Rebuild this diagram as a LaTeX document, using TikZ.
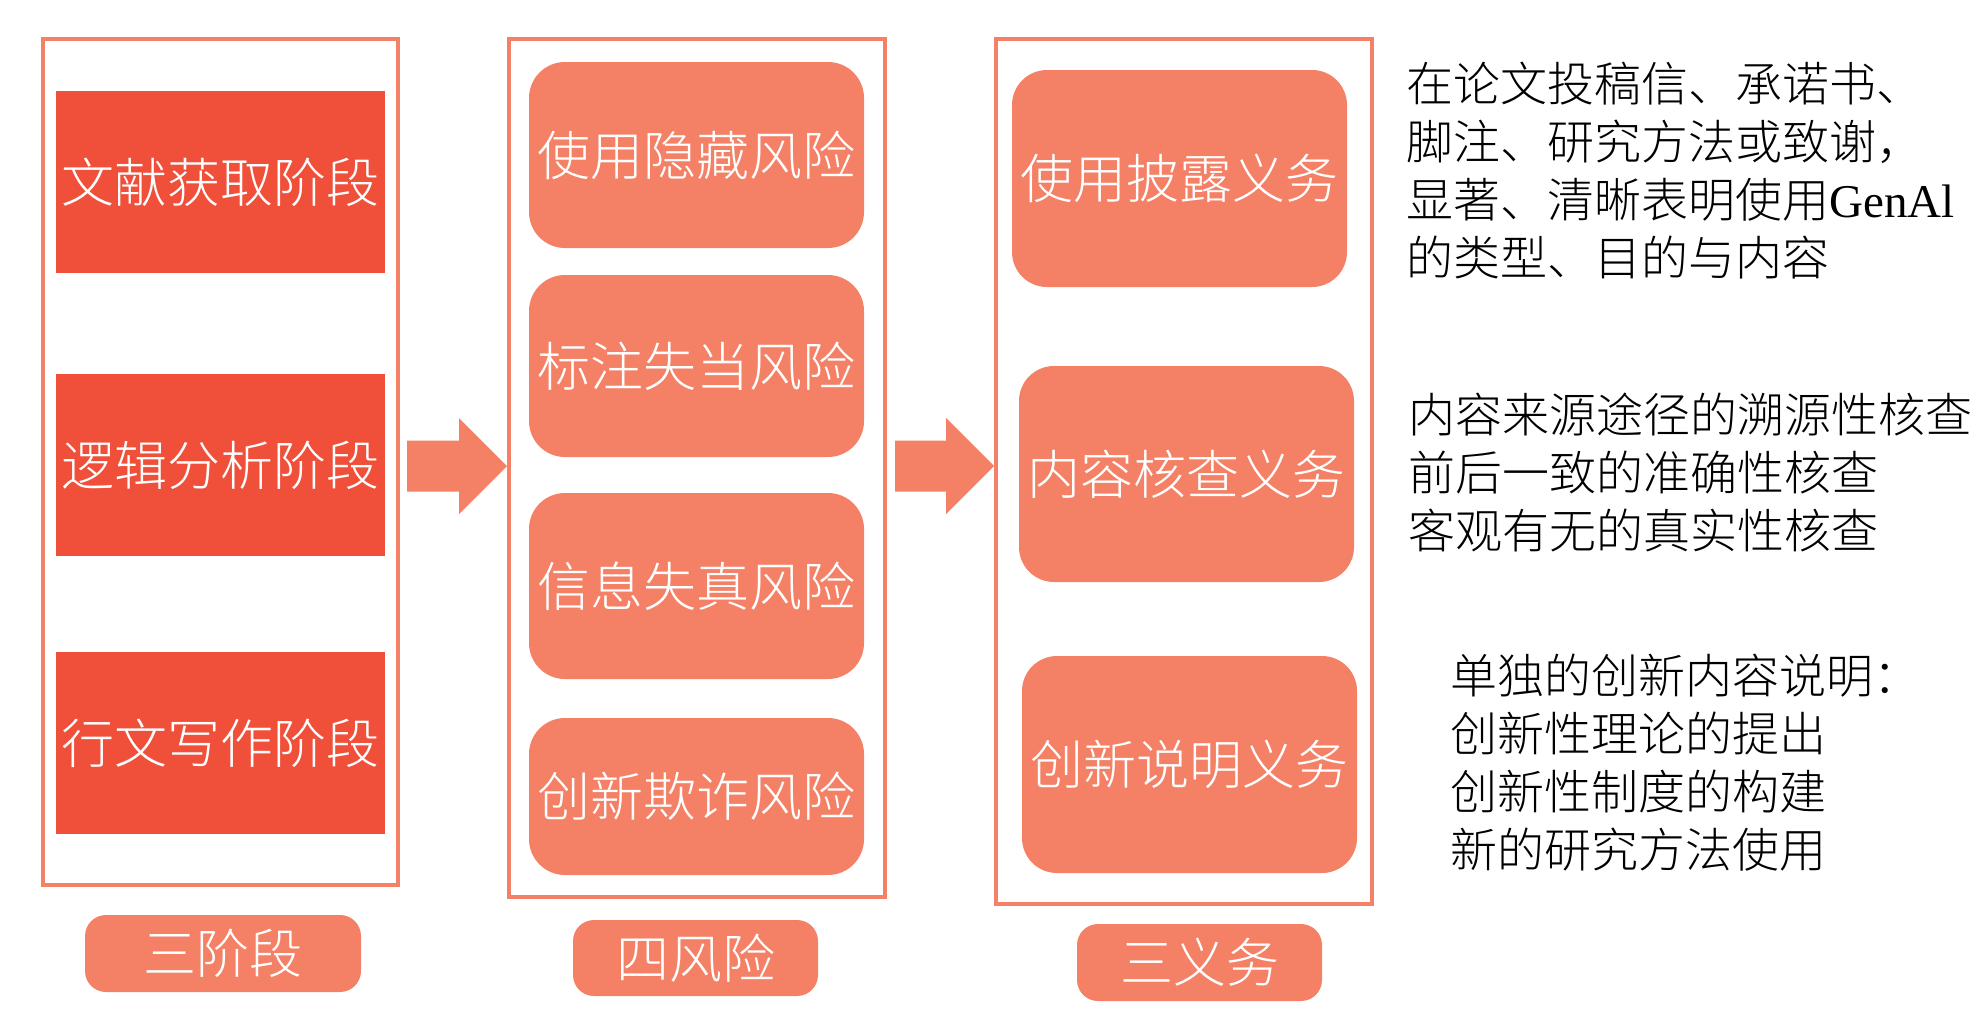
\documentclass[tikz,border=0pt]{standalone}
\usepackage{fontspec}
\setmainfont{Liberation Serif}
\newfontfamily\cjk{Noto Sans CJK SC Light}
\usetikzlibrary{calc}
\definecolor{salmon}{RGB}{244,128,102}
\definecolor{redbox}{RGB}{240,79,58}
\begin{document}
\begin{tikzpicture}[x=1pt,y=-1pt,
  frame/.style={draw=salmon,line width=4pt,inner sep=0pt},
  stagebox/.style={fill=redbox,inner sep=0pt,minimum width=329pt,minimum height=182pt,
    text=white,font=\cjk\fontsize{53}{60}\selectfont},
  softbox/.style={fill=salmon,rounded corners=36pt,inner sep=0pt,minimum width=335pt,
    text=white,font=\cjk\fontsize{53}{60}\selectfont},
  tagbox/.style={fill=salmon,rounded corners=21pt,inner sep=0pt,
    text=white,font=\cjk\fontsize{53}{60}\selectfont},
  noteline/.style={inner sep=0pt,anchor=base west,text=black,font=\cjk\fontsize{47}{58}\selectfont},
  blockarrow/.style={fill=salmon}]
\fill[white] (0,0) rectangle (1984,1034);
\useasboundingbox (0,0) rectangle (1984,1034);

% outer frames
\node[frame,minimum width=355pt,minimum height=846pt] (b1) at (220.5,462) {};
\node[frame,minimum width=376pt,minimum height=858pt] (b2) at (697,468) {};
\node[frame,minimum width=376pt,minimum height=865pt] (b3) at (1184,471.5) {};

% stages
\node[stagebox] (s1) at (220.5,182) {文献获取阶段};
\node[stagebox] (s2) at (220.5,465) {逻辑分析阶段};
\node[stagebox] (s3) at (220.5,743) {行文写作阶段};

% risks
\node[softbox,minimum height=186pt] (r1) at (696.5,155) {使用隐藏风险};
\node[softbox,minimum height=182pt] (r2) at (696.5,366) {标注失当风险};
\node[softbox,minimum height=186pt] (r3) at (696.5,586) {信息失真风险};
\node[softbox,minimum height=157pt] (r4) at (696.5,796.5) {创新欺诈风险};

% duties
\node[softbox,rounded corners=35pt,minimum height=217pt] (d1) at (1179.5,178.5) {使用披露义务};
\node[softbox,rounded corners=35pt,minimum height=216pt] (d2) at (1186.5,474) {内容核查义务};
\node[softbox,rounded corners=35pt,minimum height=217pt] (d3) at (1189.5,764.5) {创新说明义务};

% tags
\node[tagbox,minimum width=276pt,minimum height=77pt] (t1) at (223,953.5) {三阶段};
\node[tagbox,minimum width=245pt,minimum height=76pt] (t2) at (695.5,958) {四风险};
\node[tagbox,minimum width=245pt,minimum height=77pt] (t3) at (1199.5,962.5) {三义务};

% block arrows
\coordinate (mid) at (0,466);
\fill[blockarrow] let \p1=(b1.east), \p2=(b2.west), \p3=(mid) in
  (\x1+7pt,\y3+25.5pt) -- (\x2-48pt,\y3+25.5pt) -- (\x2-48pt,\y3+48pt) -- (\x2,\y3)
  -- (\x2-48pt,\y3-48pt) -- (\x2-48pt,\y3-25.5pt) -- (\x1+7pt,\y3-25.5pt) -- cycle;
\fill[blockarrow] let \p1=(b2.east), \p2=(b3.west), \p3=(mid) in
  (\x1+8pt,\y3+25.5pt) -- (\x2-48pt,\y3+25.5pt) -- (\x2-48pt,\y3+48pt) -- (\x2,\y3)
  -- (\x2-48pt,\y3-48pt) -- (\x2-48pt,\y3-25.5pt) -- (\x1+8pt,\y3-25.5pt) -- cycle;

% notes
\node[noteline] (n1a) at (1406,101) {在论文投稿信、承诺书、};
\node[noteline] (n1b) at (1406,159.3) {脚注、研究方法或致谢，};
\node[noteline] (n1c) at (1406,217.6) {显著、清晰表明使用{\rmfamily GenAl}};
\node[noteline] (n1d) at (1406,275.9) {的类型、目的与内容};

\node[noteline] (n2a) at (1408,432) {内容来源途径的溯源性核查};
\node[noteline] (n2b) at (1408,490.3) {前后一致的准确性核查};
\node[noteline] (n2c) at (1408,548.6) {客观有无的真实性核查};

\node[noteline] (n3a) at (1450,693) {单独的创新内容说明：};
\node[noteline] (n3b) at (1450,751.3) {创新性理论的提出};
\node[noteline] (n3c) at (1450,809.6) {创新性制度的构建};
\node[noteline] (n3d) at (1450,867.9) {新的研究方法使用};
\end{tikzpicture}
\end{document}
